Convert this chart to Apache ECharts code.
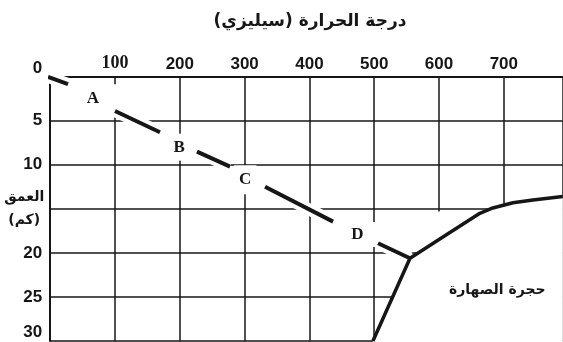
<!DOCTYPE html>
<html><head><meta charset="utf-8">
<script src="https://cdn.jsdelivr.net/npm/echarts@6/dist/echarts.min.js"></script>
<style>html,body{margin:0;padding:0;background:#fff}#c{width:563px;height:342px}</style>
</head><body><div id="c"></div>
<script>
// ---- data ----
const xTickValues = [0, 100, 200, 300, 400, 500, 600, 700];
const yTickValues = [0, 5, 10, 15, 20, 25, 30];
const xTitle = 'درجة الحرارة (سيليزي)';
const yTitle = ['العمق', '(كم)'];
// geotherm (dashed): temperature (°C) / depth (km), null = break
const geoTemp  = [-3.4, 27.5, null, 100, 169.4, null, 226.5, 277.5, null, 331.5, 436.5, null, 505.9, 555.2];
const geoDepth = [0.03, 0.83, null, 3.9, 6.3,   null, 8.5,   10.2,  null, 12.5,  16.45, null, 18.9,  20.6];
// melting curve
const solTemp  = [498, 555.2, 606, 663, 683, 714, 745, 791];
const solDepth = [30,  20.6,  18.2, 15.5, 14.9, 14.3, 14.0, 13.6];
// point letters
const ptNames = ['A', 'B', 'C', 'D'];
const ptTemp  = [66, 199, 301, 474];
const ptDepth = [2.5, 8.0, 11.7, 17.9];
const rockName = 'حجرة الصهارة';
const rockTemp = 690, rockDepth = 24.2;

const X_MAX = 791, Y_MAX = 30;
const ink = '#161616';

const pair = (xs, ys) => xs.map((v, i) => v === null ? ['-', '-'] : [v, ys[i]]);
const geoData = pair(geoTemp, geoDepth);
const solData = pair(solTemp, solDepth);

const chart = echarts.init(document.getElementById('c'), null, {renderer: 'canvas'});

const letterPad = {
  A: {padding: [6, 24, 6, 4], offset: [10, 0]},
  B: {padding: [5, 5, 5, 5], offset: [0, 0]},
  C: {padding: [6, 5, 6, 5], offset: [0, 0]},
  D: {padding: [4, 16, 4, 4], offset: [6, 0]}
};

chart.setOption({
  animation: false,
  backgroundColor: '#fff',
  grid: {left: 50.2, top: 76.7, right: 0.2, bottom: 1, containLabel: false, outerBoundsMode: 'none'},
  xAxis: {
    type: 'value', position: 'top', min: 0, max: X_MAX, interval: 100,
    axisLine: {show: true, onZero: false, lineStyle: {color: ink, width: 2}},
    axisTick: {show: false},
    splitLine: {show: true, lineStyle: {color: ink, width: 1.5}},
    axisLabel: {
      margin: 4,
      showMaxLabel: false,
      formatter: v => (xTickValues.indexOf(v) > 0 ? (v === 100 ? '{s|' + v + '}' : '{b|' + v + '}') : ''),
      rich: {
        b: {fontFamily: 'Liberation Sans', fontWeight: 'bold', fontSize: 17, color: ink},
        s: {fontFamily: 'Liberation Serif', fontWeight: 'bold', fontSize: 18, color: ink}
      }
    }
  },
  yAxis: {
    type: 'value', inverse: true, min: 0, max: Y_MAX, interval: 5,
    axisLine: {show: true, lineStyle: {color: ink, width: 2}},
    axisTick: {show: false},
    splitLine: {show: true, lineStyle: {color: ink, width: 1.5}},
    axisLabel: {
      margin: 8,
      formatter: v => {
        if (v === 15) return '{n|' + yTitle[0] + '}\n{n|' + yTitle[1] + '}';
        if (v === 0 || v === Y_MAX) return '{z|' + v + '}';
        return yTickValues.indexOf(v) >= 0 ? '{b|' + v + '}' : '';
      },
      rich: {
        b: {fontFamily: 'Liberation Sans', fontWeight: 'bold', fontSize: 17, color: ink},
        z: {fontFamily: 'Liberation Sans', fontWeight: 'bold', fontSize: 17, color: ink, padding: [0, 0, 17, 0]},
        n: {fontFamily: 'DejaVu Sans', fontWeight: 'bold', fontSize: 14, color: ink, width: 36, align: 'center', lineHeight: 23}
      }
    }
  },
  graphic: [{
    type: 'text', x: 310, y: 22, z: 10,
    style: {text: xTitle, align: 'center', verticalAlign: 'middle',
            font: 'bold 17px "DejaVu Sans"', fill: ink}
  }],
  series: [
    {
      // white mask over the magma-chamber region (no grid inside)
      type: 'custom', z: 1, silent: true, clip: false, data: [0],
      renderItem: (params, api) => {
        const pts = solTemp.map((t, i) => api.coord([t, solDepth[i]]));
        pts.push(api.coord([X_MAX, Y_MAX + 1]));
        pts.push(api.coord([solTemp[0], Y_MAX + 1]));
        const notch = [[596, 15.3], [604, 15.3], [604, 19.5], [596, 19.5]].map(q => api.coord(q));
        return {type: 'group', children: [
          {type: 'polygon', shape: {points: pts}, style: {fill: '#fff'}},
          {type: 'polygon', shape: {points: notch}, style: {fill: '#fff'}}
        ]};
      }
    },
    {
      // white halo under the geotherm dashes
      type: 'line', z: 3, silent: true, clip: false, symbol: 'none',
      data: geoData, connectNulls: false,
      lineStyle: {color: '#fff', width: 12}
    },
    {
      type: 'scatter', z: 4, silent: true, symbolSize: 0,
      itemStyle: {opacity: 1},
      data: ptNames.map((n, i) => ({
        value: [ptTemp[i], ptDepth[i]],
        label: {
          show: true, position: 'inside', formatter: n,
          fontFamily: 'Liberation Serif', fontWeight: 'bold', fontSize: 17, color: ink,
          backgroundColor: '#fff',
          padding: letterPad[n].padding, offset: letterPad[n].offset
        }
      }))
    },
    {
      type: 'line', z: 5, silent: true, clip: false, symbol: 'none',
      data: geoData, connectNulls: false,
      lineStyle: {color: ink, width: 4}
    },
    {
      type: 'line', z: 5, silent: true, clip: false, symbol: 'none',
      data: solData,
      lineStyle: {color: ink, width: 3.5, join: 'round'}
    },
    {
      type: 'scatter', z: 6, silent: true, symbolSize: 0,
      itemStyle: {opacity: 1},
      data: [{value: [rockTemp, rockDepth]}],
      label: {show: true, position: 'inside', formatter: rockName,
              fontFamily: 'DejaVu Sans', fontWeight: 'bold', fontSize: 14, color: ink}
    }
  ]
});
</script>
</body></html>
